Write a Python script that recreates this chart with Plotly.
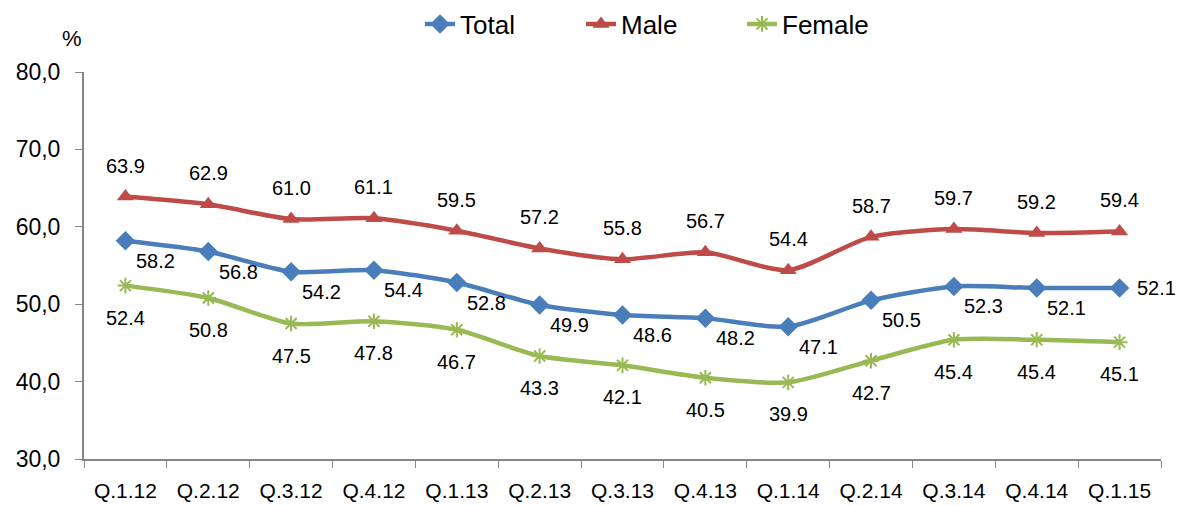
import plotly.graph_objects as go

categories = ["Q.1.12", "Q.2.12", "Q.3.12", "Q.4.12", "Q.1.13", "Q.2.13", "Q.3.13",
              "Q.4.13", "Q.1.14", "Q.2.14", "Q.3.14", "Q.4.14", "Q.1.15"]
total = [58.2, 56.8, 54.2, 54.4, 52.8, 49.9, 48.6, 48.2, 47.1, 50.5, 52.3, 52.1, 52.1]
male = [63.9, 62.9, 61.0, 61.1, 59.5, 57.2, 55.8, 56.7, 54.4, 58.7, 59.7, 59.2, 59.4]
female = [52.4, 50.8, 47.5, 47.8, 46.7, 43.3, 42.1, 40.5, 39.9, 42.7, 45.4, 45.4, 45.1]
y_ticks = [30, 40, 50, 60, 70, 80]
y_tick_text = ["30,0", "40,0", "50,0", "60,0", "70,0", "80,0"]

BLUE = "#4A7EBB"
RED = "#BE4B48"
GREEN = "#98B954"
FONT = "Liberation Sans, Arial, sans-serif"

fig = go.Figure()
fig.add_trace(go.Scatter(x=categories, y=total, name="Total", mode="lines+markers",
                         line=dict(color=BLUE, width=4.5, shape="spline", smoothing=0.7),
                         marker=dict(symbol="diamond", size=15, color=BLUE)))
fig.add_trace(go.Scatter(x=categories, y=male, name="Male", mode="lines+markers",
                         line=dict(color=RED, width=4.5, shape="spline", smoothing=0.7),
                         marker=dict(symbol="triangle-up", size=15, color=RED)))
fig.add_trace(go.Scatter(x=categories, y=female, name="Female", mode="lines+markers",
                         line=dict(color=GREEN, width=4.5, shape="spline", smoothing=0.7),
                         marker=dict(symbol="asterisk-open", size=13, color=GREEN,
                                     line=dict(color=GREEN, width=2))))

annotations = []
lab_font = dict(family=FONT, size=20, color="#000000")
n = len(categories)
for i, c in enumerate(categories):
    annotations.append(dict(x=c, y=male[i], text=f"{male[i]:.1f}", showarrow=False,
                            yshift=31, font=lab_font))
    annotations.append(dict(x=c, y=female[i], text=f"{female[i]:.1f}", showarrow=False,
                            yshift=-32, font=lab_font))
    if i == n - 1:
        annotations.append(dict(x=c, y=total[i], text=f"{total[i]:.1f}", showarrow=False,
                                xshift=37, yshift=0, font=lab_font))
    else:
        annotations.append(dict(x=c, y=total[i], text=f"{total[i]:.1f}", showarrow=False,
                                xshift=30, yshift=-20, font=lab_font))

annotations.append(dict(xref="paper", yref="paper", x=0, y=1, xshift=0, yshift=34,
                        text="%", showarrow=False, xanchor="right", yanchor="middle",
                        font=dict(family=FONT, size=22, color="#000000")))

fig.update_layout(
    width=1188, height=506,
    margin=dict(l=76, r=35, t=64, b=55, autoexpand=False),
    paper_bgcolor="white", plot_bgcolor="white",
    font=dict(family=FONT, color="#000000"),
    showlegend=True,
    legend=dict(orientation="h", xref="container", yref="container",
                x=412 / 1188, xanchor="left", y=1 - 16 / 506, yanchor="middle",
                font=dict(family=FONT, size=26, color="#000000"),
                entrywidth=116, entrywidthmode="pixels",
                traceorder="normal", bgcolor="rgba(0,0,0,0)"),
    annotations=annotations,
)
fig.update_xaxes(type="category", range=[-0.5, n - 0.5], showline=True,
                 linecolor="#868686", linewidth=2, ticks="outside", tickson="boundaries",
                 ticklen=7, tickcolor="#868686", tickwidth=1, showgrid=False,
                 ticklabelstandoff=12, automargin=False,
                 tickfont=dict(family=FONT, size=21, color="#000000"), zeroline=False)
fig.update_yaxes(range=[30, 80], tickvals=y_ticks, ticktext=y_tick_text, showline=True,
                 linecolor="#868686", linewidth=2, ticks="outside", ticklen=7,
                 tickcolor="#868686", tickwidth=1, showgrid=False, zeroline=False,
                 ticklabelstandoff=10, automargin=False,
                 tickfont=dict(family=FONT, size=23, color="#000000"))

fig.write_html("out.html")
